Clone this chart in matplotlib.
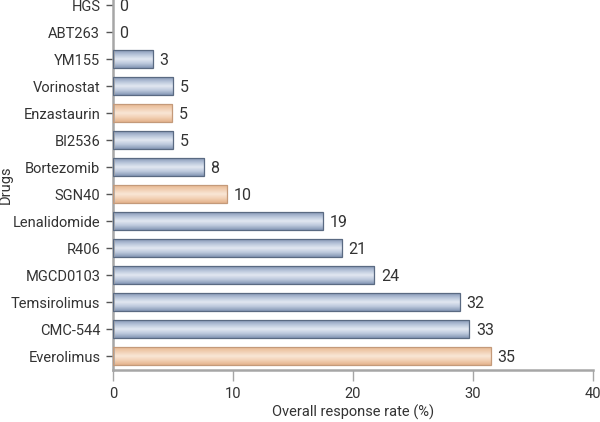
import numpy as np
import matplotlib.pyplot as plt
from matplotlib.patches import Rectangle
from matplotlib.colors import LinearSegmentedColormap

# drugs listed bottom to top
drugs = ['Everolimus', 'CMC-544', 'Temsirolimus', 'MGCD0103', 'R406', 'Lenalidomide',
         'SGN40', 'Bortezomib', 'BI2536', 'Enzastaurin', 'Vorinostat', 'YM155',
         'ABT263', 'HGS']
# bar lengths as drawn in the picture
bar_len = [31.5, 29.7, 28.9, 21.8, 19.1, 17.5, 9.5, 7.6, 5.05, 4.97, 5.05, 3.35, 0, 0]
# printed labels
labels = ['35', '33', '32', '24', '21', '19', '10', '8', '5', '5', '5', '3', '0', '0']
group = ['o', 'b', 'b', 'b', 'b', 'b', 'o', 'b', 'b', 'o', 'b', 'b', 'b', 'b']

blue_cmap = LinearSegmentedColormap.from_list(
    'bl', ['#8798b6', '#b8c5da', '#e2e8f1', '#bcc8dc', '#8496b4'])
orange_cmap = LinearSegmentedColormap.from_list(
    'or', ['#e7b892', '#f1cfb3', '#f9e6d6', '#f2d0b4', '#e4b38c'])
edge = {'b': '#5a6a82', 'o': '#c49a7a'}

plt.rcParams['font.family'] = ['Roboto', 'DejaVu Sans']
txt = '#333333'
axis_col = '#a6a6a6'

fig = plt.figure(figsize=(6, 4.22), dpi=100)
ax = fig.add_axes([0.188, 0.123, 0.8, 0.877])

h = 0.645
grad = np.linspace(0, 1, 64).reshape(-1, 1)
y = np.arange(len(drugs))
for i, v in enumerate(bar_len):
    if v > 0:
        cm = blue_cmap if group[i] == 'b' else orange_cmap
        ax.imshow(grad, cmap=cm, aspect='auto', interpolation='bilinear',
                  extent=(0, v, y[i] - h / 2, y[i] + h / 2), origin='upper', zorder=2)
        ax.add_patch(Rectangle((0, y[i] - h / 2), v, h, fill=False,
                               edgecolor=edge[group[i]], linewidth=0.9, zorder=3))
    ax.text(v + 0.55, y[i] - 0.05, labels[i], va='center', ha='left',
            fontsize=11.5, color=txt)

ax.set_xlim(0, 40)
ax.set_ylim(-0.52, 13.19)
ax.set_xticks([0, 10, 20, 30, 40])
ax.set_yticks(y)
ax.set_yticklabels(drugs)
ax.tick_params(axis='x', length=8, width=1, color=axis_col, labelsize=10.5,
               labelcolor=txt, pad=4)
ax.tick_params(axis='y', length=5, width=1, color='#555555', labelsize=10.5,
               labelcolor=txt, pad=4)
for s in ['top', 'right']:
    ax.spines[s].set_visible(False)
for s in ['left', 'bottom']:
    ax.spines[s].set_color(axis_col)
    ax.spines[s].set_linewidth(1.8)

ax.set_xlabel('Overall response rate (%)', fontsize=10.5, color=txt)
ax.set_ylabel('Drugs', fontsize=10.5, color=txt)
ax.xaxis.set_label_coords(0.5, -0.113)
ax.yaxis.set_label_coords(-0.222, 0.5)
ax.xaxis.label.set_va('center')
ax.yaxis.label.set_va('center')

fig.savefig('out.png', dpi=100)
